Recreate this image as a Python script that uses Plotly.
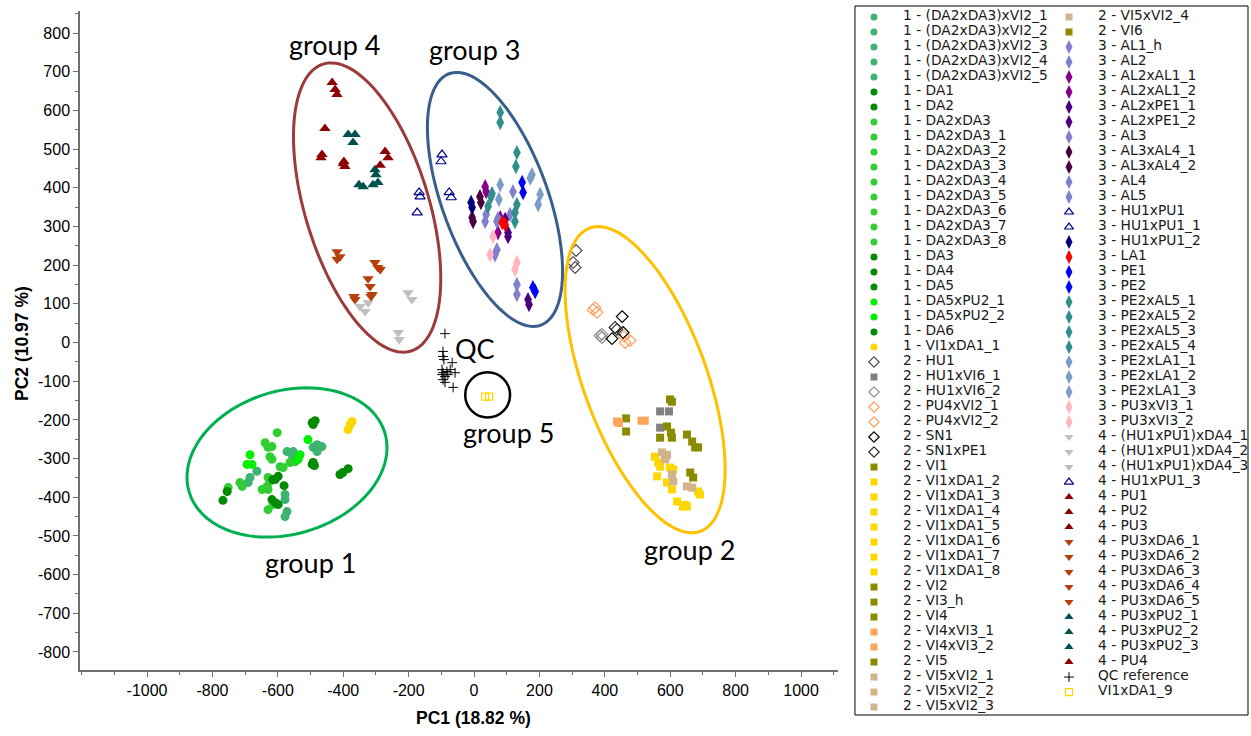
import numpy as np
import plotly.graph_objects as go

# ---------------- data (PC1 / PC2 scores) ----------------
G1_NAMES = ["1 - (DA2xDA3)xVI2_1", "1 - (DA2xDA3)xVI2_2", "1 - (DA2xDA3)xVI2_3", "1 - (DA2xDA3)xVI2_4",
            "1 - (DA2xDA3)xVI2_5", "1 - DA1", "1 - DA2", "1 - DA2xDA3", "1 - DA2xDA3_1", "1 - DA2xDA3_2",
            "1 - DA2xDA3_3", "1 - DA2xDA3_4", "1 - DA2xDA3_5", "1 - DA2xDA3_6", "1 - DA2xDA3_7",
            "1 - DA2xDA3_8", "1 - DA3", "1 - DA4", "1 - DA5", "1 - DA5xPU2_1", "1 - DA5xPU2_2", "1 - DA6",
            "1 - VI1xDA1_1"]
G1_PC1 = [[-572, -553, -557], [-492, -480, -465], [-480, -664], [-685, -691, -578], [-578, -572, -578],
          [-495, -486, -492], [-495, -492, -488], [-602, -639], [-630, -618], [-624, -618],
          [-593, -584, -563], [-547, -538], [-630, -624], [-633, -630, -648], [-716, -709, -752],
          [-630, -615], [-410, -385, -401], [-599, -608, -615], [-581, -618, -608], [-685, -694, -679],
          [-508, -532, -538], [-755, -768, -599], [-379, -385, -373]]
G1_PC2 = [[-282, -282, -290], [-271, -264, -269], [-282, -333], [-349, -362, -393], [-406, -437, -450],
          [-207, -202, -212], [-315, -310, -318], [-233, -259], [-271, -269], [-295, -302],
          [-321, -323, -310], [-308, -297], [-349, -359], [-372, -380, -380], [-362, -372, -375],
          [-432, -419], [-341, -326, -336], [-346, -354, -354], [-370, -406, -414], [-290, -315, -315],
          [-251, -290, -302], [-385, -408, -419], [-212, -225, -204]]

G2_NAMES = ["2 - HU1", "2 - HU1xVI6_1", "2 - HU1xVI6_2", "2 - PU4xVI2_1", "2 - PU4xVI2_2", "2 - SN1",
            "2 - SN1xPE1", "2 - VI1", "2 - VI1xDA1_2", "2 - VI1xDA1_3", "2 - VI1xDA1_4", "2 - VI1xDA1_5",
            "2 - VI1xDA1_6", "2 - VI1xDA1_7", "2 - VI1xDA1_8", "2 - VI2", "2 - VI3_h", "2 - VI4",
            "2 - VI4xVI3_1", "2 - VI4xVI3_2", "2 - VI5", "2 - VI5xVI2_1", "2 - VI5xVI2_2", "2 - VI5xVI2_3",
            "2 - VI5xVI2_4", "2 - VI6"]
G2_PC1 = [[312, 303, 309], [569, 596, 569], [391, 391, 385], [364, 376, 370], [462, 477, 459],
          [453, 422, 456], [431, 437], [605, 599], [553, 563], [569, 560], [599, 609], [590, 605],
          [621, 639], [651, 645], [685, 691], [465, 465], [590, 602], [569, 605], [437, 443],
          [512, 522], [651, 667, 661], [575, 590], [584, 587], [605, 609], [651, 667], [676, 685, 670]]
G2_PC2 = [[238, 207, 194], [-178, -178, -220], [21, 13, 18], [85, 78, 90], [0, 5, 16], [67, 10, 26],
          [39, 34], [-153, -147], [-295, -310], [-321, -346], [-323, -328], [-362, -380], [-411, -424],
          [-424, -420], [-385, -393], [-196, -230], [-217, -233], [-246, -246], [-204, -208],
          [-202, -202], [-238, -256, -336], [-284, -290], [-302, -295], [-341, -359], [-372, -375],
          [-271, -271, -349]]

G3_NAMES = ["3 - AL1_h", "3 - AL2", "3 - AL2xAL1_1", "3 - AL2xAL1_2", "3 - AL2xPE1_1", "3 - AL2xPE1_2",
            "3 - AL3", "3 - AL3xAL4_1", "3 - AL3xAL4_2", "3 - AL4", "3 - AL5", "3 - HU1xPU1",
            "3 - HU1xPU1_1", "3 - HU1xPU1_2", "3 - LA1", "3 - PE1", "3 - PE2", "3 - PE2xAL5_1",
            "3 - PE2xAL5_2", "3 - PE2xAL5_3", "3 - PE2xAL5_4", "3 - PE2xLA1_1", "3 - PE2xLA1_2",
            "3 - PE2xLA1_3", "3 - PU3xVI3_1", "3 - PU3xVI3_2"]
G3_PC1 = [[119, 110], [37, 34], [34, 37], [80, 73], [95, 104, 104], [165, 168], [70, 73], [18, 21],
          [-6, -3], [70, 64], [131, 131], [-98, -101], [-76, -70], [-9, -6], [86, 95], [147, 150],
          [180, 187], [80, 80], [131, 128], [55, 52, 43], [131, 125, 125], [177, 172], [80, 76],
          [202, 196], [58, 49], [131, 125]]
G3_PC2 = [[390, 331], [331, 313], [403, 390], [323, 284], [318, 284, 274], [111, 98], [313, 320],
          [377, 362], [323, 313], [240, 227], [150, 124], [486, 468], [388, 375], [362, 349], [310, 305],
          [414, 388], [142, 132], [595, 569], [491, 455], [385, 377, 352], [357, 336, 313], [434, 425],
          [408, 370], [383, 357], [274, 227], [207, 189]]

G4_NAMES = ["4 - (HU1xPU1)xDA4_1", "4 - (HU1xPU1)xDA4_2", "4 - (HU1xPU1)xDA4_3", "4 - HU1xPU1_3",
            "4 - PU1", "4 - PU2", "4 - PU3", "4 - PU3xDA6_1", "4 - PU3xDA6_2", "4 - PU3xDA6_3",
            "4 - PU3xDA6_4", "4 - PU3xDA6_5", "4 - PU3xPU2_1", "4 - PU3xPU2_2", "4 - PU3xPU2_3", "4 - PU4"]
G4_PC1 = [[-349, -333, -324], [-202, -190], [-232, -229], [-168, -165, -174], [-434, -425, -419],
          [-456, -465, -468], [-398, -395, -400], [-419, -410, -419], [-303, -294, -287], [-324, -318],
          [-312, -315], [-367, -364], [-385, -364, -370], [-303, -300, -294], [-352, -339, -309],
          [-272, -263, -287]]
G4_PC2 = [[93, 80, 103], [129, 111], [26, 8], [388, 377, 336], [672, 654, 641], [553, 486, 478],
          [468, 455, 462], [235, 222, 215], [207, 194, 189], [165, 145], [124, 119], [119, 111],
          [538, 538, 517], [447, 434, 414], [408, 403, 408], [494, 478, 458]]

QC_NAMES = ["QC reference", "VI1xDA1_9"]
QC_PC1 = [[-89, -95, -95, -92, -67, -98, -95, -83, -73, -98, -89, -80, -58, -95, -89, -64], [34, 46]]
QC_PC2 = [[23, -23, -36, -44, -52, -70, -78, -75, -70, -83, -88, -83, -78, -96, -103, -116], [-140, -140]]

GROUP_LABELS = ["group 4", "group 3", "group 2", "group 1", "QC", "group 5"]
GROUP_LABEL_PC1 = [-428, 0, 660, -501, 3, 104]
GROUP_LABEL_PC2 = [770, 757, -535, -569, -16, -233]

X_TICKS = list(range(-1000, 1001, 200))
Y_TICKS = list(range(-800, 801, 100))
X_TICK_TEXT = [str(v) for v in X_TICKS]
Y_TICK_TEXT = [str(v) for v in Y_TICKS]

# ---------------- styles ----------------
C_SEA, C_DG, C_LG, C_BG = "#3CB371", "#008B00", "#32CD32", "#00F000"
C_GOLD, C_OLIVE, C_TAN, C_SAND = "#FFD700", "#8B8B00", "#D2B48C", "#FFA55A"
C_LAV, C_MAG, C_IND, C_PLUM = "#8080CC", "#8B008B", "#4B0082", "#4D0040"
C_NAVY, C_TEAL, C_STEEL, C_PINK = "#00008B", "#2F8F8A", "#7A9CC8", "#FFB6C1"
C_SILV, C_DRED, C_RUST, C_DTEAL = "#C0C0C0", "#8B0000", "#B5400A", "#00504B"

def style(name):
    n = name
    if n.startswith("1 - (DA2xDA3)xVI2"): return C_SEA, "circle"
    if n.startswith("1 - DA5xPU2"): return C_BG, "circle"
    if n.startswith("1 - DA2xDA3"): return C_LG, "circle"
    if n.startswith("1 - DA"): return C_DG, "circle"
    if n == "1 - VI1xDA1_1": return C_GOLD, "circle"
    if n == "2 - HU1": return "#505050", "diamond-open"
    if n == "2 - HU1xVI6_1": return "#808080", "square"
    if n == "2 - HU1xVI6_2": return "#909090", "diamond-open"
    if n.startswith("2 - PU4xVI2"): return "#FFA060", "diamond-open"
    if n == "2 - SN1": return "#000000", "diamond-open"
    if n == "2 - SN1xPE1": return "#303030", "diamond-open"
    if n.startswith("2 - VI1xDA1"): return C_GOLD, "square"
    if n.startswith("2 - VI4xVI3"): return C_SAND, "square"
    if n.startswith("2 - VI5xVI2"): return C_TAN, "square"
    if n.startswith("2 - VI"): return C_OLIVE, "square"
    if n.startswith("3 - AL2xAL1"): return C_MAG, "diamond-tall"
    if n.startswith("3 - AL2xPE1"): return C_IND, "diamond-tall"
    if n.startswith("3 - AL3xAL4"): return C_PLUM, "diamond-tall"
    if n.startswith("3 - AL"): return C_LAV, "diamond-tall"
    if n == "3 - HU1xPU1_2": return "#000080", "diamond-tall"
    if n.startswith("3 - HU1xPU1"): return C_NAVY, "triangle-up-open"
    if n == "3 - LA1": return "#FF0000", "diamond-tall"
    if n in ("3 - PE1", "3 - PE2"): return "#0000FF", "diamond-tall"
    if n.startswith("3 - PE2xAL5"): return C_TEAL, "diamond-tall"
    if n.startswith("3 - PE2xLA1"): return C_STEEL, "diamond-tall"
    if n.startswith("3 - PU3xVI3"): return C_PINK, "diamond-tall"
    if n.startswith("4 - (HU1xPU1)"): return C_SILV, "triangle-down"
    if n == "4 - HU1xPU1_3": return C_NAVY, "triangle-up-open"
    if n.startswith("4 - PU3xDA6"): return C_RUST, "triangle-down"
    if n.startswith("4 - PU3xPU2"): return C_DTEAL, "triangle-up"
    if n.startswith("4 - PU"): return C_DRED, "triangle-up"
    if n == "QC reference": return "#000000", "cross-thin"
    return C_GOLD, "square-open"

PLOT_SIZE = {"circle": 9, "square": 8, "diamond-open": 9, "diamond-tall": 11, "triangle-up-open": 9,
             "triangle-up": 10, "triangle-down": 10, "cross-thin": 7, "square-open": 7}
LEG_SIZE = {"circle": 7, "square": 7, "diamond-open": 8, "diamond-tall": 10, "triangle-up-open": 8,
            "triangle-up": 8, "triangle-down": 8, "cross-thin": 7, "square-open": 7}

def marker(name, sizes):
    col, sym = style(name)
    m = dict(symbol=sym, size=sizes[sym], color=col, line=dict(width=0, color=col))
    if sym.endswith("-open"):
        m["line"] = dict(width=1.2, color=col)
    if sym == "cross-thin":
        m["line"] = dict(width=1, color=col)
    return m

names = G1_NAMES + G2_NAMES + G3_NAMES + G4_NAMES + QC_NAMES
pc1 = G1_PC1 + G2_PC1 + G3_PC1 + G4_PC1 + QC_PC1
pc2 = G1_PC2 + G2_PC2 + G3_PC2 + G4_PC2 + QC_PC2

fig = go.Figure()
for nm, xs, ys in zip(names, pc1, pc2):
    fig.add_trace(go.Scatter(x=xs, y=ys, mode="markers", name=nm, marker=marker(nm, PLOT_SIZE),
                             showlegend=False, xaxis="x", yaxis="y"))

# ---------------- custom two-column legend (drawn on its own axes) ----------------
N_COL1 = 47
leg_row = [i if i < N_COL1 else i - N_COL1 for i in range(len(names))]
leg_col = [0 if i < N_COL1 else 1 for i in range(len(names))]
for nm, r, c in zip(names, leg_row, leg_col):
    fig.add_trace(go.Scatter(x=[19 + 195 * c], y=[r], mode="markers", marker=marker(nm, LEG_SIZE),
                             showlegend=False, hoverinfo="skip", cliponaxis=False,
                             xaxis="x2", yaxis="y2"))
fig.add_trace(go.Scatter(x=[48 + 195 * c for c in leg_col], y=leg_row, mode="text", text=names,
                         textposition="middle right", cliponaxis=False,
                         textfont=dict(family="DejaVu Sans", size=13.8, color="#1a1a1a"),
                         showlegend=False, hoverinfo="skip", xaxis="x2", yaxis="y2"))

# ---------------- group ellipses ----------------
def ellipse_path(c, u, v):
    t = np.linspace(0, 2 * np.pi, 120)
    xs = c[0] + u[0] * np.cos(t) + v[0] * np.sin(t)
    ys = c[1] + u[1] * np.cos(t) + v[1] * np.sin(t)
    return "M " + " L ".join(f"{a:.2f},{b:.2f}" for a, b in zip(xs, ys)) + " Z"

ELLIPSES = [((-327, 349), (134, -371), (181, 46.8), "#9B3B3B"),
            ((64, 370), (140, -325), (152, 46.8), "#3A5E8C"),
            ((523, -96), (169, -392), (177, 54.5), "#FFC000"),
            ((-572, -310), (299, 77), (64, -177), "#00B050")]
for c, u, v, col in ELLIPSES:
    fig.add_shape(type="path", path=ellipse_path(c, u, v), xref="x", yref="y",
                  line=dict(color=col, width=3))
fig.add_shape(type="circle", xref="x", yref="y", x0=-27, x1=110, y0=-194, y1=-77,
              line=dict(color="black", width=2.5))
fig.add_shape(type="rect", xref="x2 domain", yref="y2 domain", x0=0, x1=1, y0=0, y1=1,
              line=dict(color="black", width=1))

for t, x, y in zip(GROUP_LABELS, GROUP_LABEL_PC1, GROUP_LABEL_PC2):
    fig.add_annotation(x=x, y=y, xref="x", yref="y", text=t, showarrow=False,
                       font=dict(family="Lato", size=27, color="black"))

axis_line = dict(showline=True, linecolor="#707070", linewidth=1.5, ticks="outside",
                 tickcolor="#707070", ticklen=5, showgrid=False, zeroline=False,
                 tickfont=dict(family="Liberation Sans", size=16, color="black"))

fig.update_layout(
    width=1251, height=736, plot_bgcolor="white", paper_bgcolor="white",
    margin=dict(l=80, r=3, t=6, b=21),
    xaxis=dict(domain=[0, 0.649], range=[-1205, 1113], tickvals=X_TICKS, ticktext=X_TICK_TEXT,
               minor=dict(dtick=100, tick0=0, ticks="outside", ticklen=3, tickcolor="#707070"),
               anchor="y", **axis_line),
    yaxis=dict(domain=[0.0635, 0.9929], range=[-846.5, 857], tickvals=Y_TICKS, ticktext=Y_TICK_TEXT,
               minor=dict(dtick=50, tick0=0, ticks="outside", ticklen=3, tickcolor="#707070"),
               anchor="x", **axis_line),
    xaxis2=dict(domain=[0.6635, 1], range=[0, 393], visible=False, anchor="y2"),
    yaxis2=dict(domain=[0, 1], range=[46.53, -0.733], visible=False, anchor="x2"),
    showlegend=False,
)
fig.add_annotation(x=0.3373, y=-0.0042, xref="paper", yref="paper", text="PC1 (18.82 %)",
                   showarrow=False, xanchor="center", yanchor="middle",
                   font=dict(family="Liberation Sans", size=17.5, color="black", weight="bold"))
fig.add_annotation(x=-0.0497, y=0.5247, xref="paper", yref="paper", text="PC2 (10.97 %)",
                   showarrow=False, textangle=-90, xanchor="center", yanchor="middle",
                   font=dict(family="Liberation Sans", size=17.5, color="black", weight="bold"))

fig.write_html("out.html", config={"displayModeBar": False},
               post_script="document.body.style.margin='0px';")
